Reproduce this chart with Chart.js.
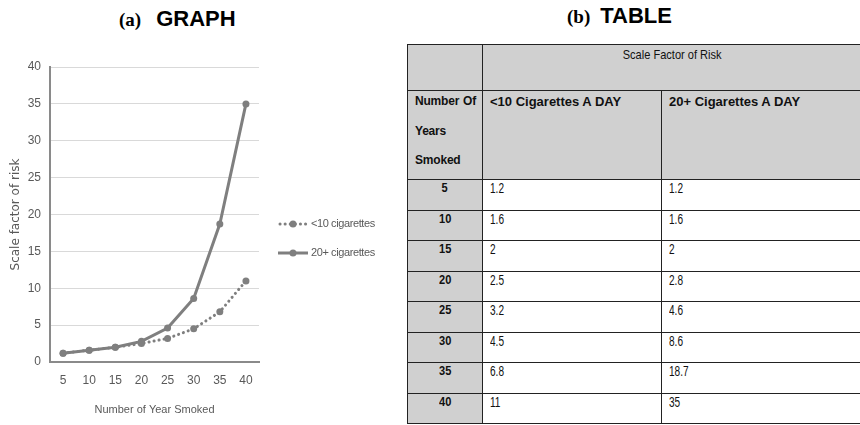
<!DOCTYPE html>
<html>
<head>
<meta charset="utf-8">
<script src="https://cdn.jsdelivr.net/npm/chart.js@4.4.1/dist/chart.umd.min.js"></script>
<style>
  html, body { margin: 0; padding: 0; background: #fff; }
  body { width: 860px; height: 425px; position: relative; overflow: hidden; }
  .title { position: absolute; font-weight: bold; white-space: nowrap; color: #000; }
  .title .lbl { font-family: "Liberation Serif", serif; font-size: 19px; }
  .title .txt { font-family: "Liberation Sans", Arial, sans-serif; font-size: 22px; }
  #ta { left: 119px; top: 6px; }
  #ta .lbl { margin-right: 15px; }
  #tb { left: 567px; top: 3px; }
  #tb .lbl { margin-right: 10px; }
  #chartBox { position: absolute; left: 0; top: 40px; width: 400px; height: 385px; }
  table { position: absolute; left: 407px; top: 44px; width: 454px; border-collapse: collapse; table-layout: fixed;
          font-family: "Liberation Sans", Arial, sans-serif; font-size: 13px; line-height: 15px; color: #111; }
  td { border: 1px solid #222; padding: 1px 6px 0 7px; vertical-align: top; }
  td.g { background: #d0d0d0; }
  td.yr { font-weight: bold; text-align: center; padding: 0; }
  .c { display: inline-block; font-size: 14px; transform: scaleX(0.72); transform-origin: left center; white-space: nowrap; }
  .cc { display: inline-block; transform: scaleX(0.85); transform-origin: center; white-space: nowrap; }
  .hd { font-weight: bold; padding-top: 3px; }
  td.nysCell { padding-top: 0; }
  .nys { font-size: 12px; letter-spacing: -0.2px; line-height: 29.5px; text-align: justify; margin-top: -4px; }
  tr.d { height: 30.5px; }
</style>
</head>
<body>
<div class="title" id="ta"><span class="lbl">(a)</span><span class="txt">GRAPH</span></div>
<div class="title" id="tb"><span class="lbl">(b)</span><span class="txt">TABLE</span></div>
<div id="chartBox"><canvas id="riskChart"></canvas></div>
<table id="riskTable">
  <colgroup><col style="width:75px"><col style="width:179px"><col style="width:200px"></colgroup>
  <tbody id="tbody"></tbody>
</table>
<script>
// data
const years = [5, 10, 15, 20, 25, 30, 35, 40];
const under10 = [1.2, 1.6, 2, 2.5, 3.2, 4.5, 6.8, 11];
const over20 = [1.2, 1.6, 2, 2.8, 4.6, 8.6, 18.7, 35];
const seriesNames = ["<10 cigarettes", "20+ cigarettes"];
const tableHeads = ["Scale Factor of Risk", "Number Of Years Smoked", "<10 Cigarettes A DAY", "20+ Cigarettes A DAY"];

const lineGray = "#7f7f7f";
const textGray = "#595959";
const chartFont = "'Liberation Sans', Arial, sans-serif";

// table
function esc(s) {
    return String(s).replace(/</g, "&lt;");
}

function buildTable() {
    const tb = document.getElementById("tbody");
    let html = `<tr style="height:46px"><td class="g"></td><td class="g" colspan="2" style="text-align:center;padding-top:2px"><span class="cc">${tableHeads[0]}</span></td></tr>`;
    html += `<tr style="height:89px"><td class="g hd nysCell"><div class="nys">${tableHeads[1]}</div></td><td class="g hd">${esc(tableHeads[2])}</td><td class="g hd">${tableHeads[3]}</td></tr>`;
    years.forEach((y, i) => {
        html += `<tr class="d"><td class="g yr"><span class="cc">${y}</span></td><td><span class="c">${under10[i]}</span></td><td><span class="c">${over20[i]}</span></td></tr>`;
    });
    tb.innerHTML = html;
}
buildTable();

// legend on the right, drawn from the datasets
const sideLegend = {
    id: "sideLegend",
    afterDraw(chart, args, opts) {
        const c = chart.ctx;
        const x0 = chart.chartArea.right + opts.offsetX;
        chart.data.datasets.forEach((ds, i) => {
            const y = opts.top + i * opts.gap;
            c.save();
            c.strokeStyle = ds.borderColor;
            c.lineWidth = ds.borderWidth;
            c.lineCap = ds.borderCapStyle || "butt";
            c.setLineDash(ds.borderDash || []);
            c.beginPath();
            c.moveTo(x0 + (ds.borderDash ? 2 : 0), y);
            c.lineTo(x0 + opts.sample, y);
            c.stroke();
            c.setLineDash([]);
            c.fillStyle = ds.backgroundColor;
            c.beginPath();
            c.arc(x0 + opts.sample / 2, y, ds.pointRadius, 0, Math.PI * 2);
            c.fill();
            c.fillStyle = opts.color;
            c.font = opts.font;
            c.textBaseline = "middle";
            c.letterSpacing = "-0.4px";
            c.fillText(ds.label, x0 + opts.sample + opts.textGap, y);
            c.restore();
        });
    }
};

const ctx = document.getElementById("riskChart").getContext("2d");
const chart = new Chart(ctx, {
    type: "line",
    data: {
        labels: years,
        datasets: [
            {
                label: seriesNames[0],
                data: under10,
                borderColor: lineGray,
                backgroundColor: lineGray,
                borderWidth: 3,
                borderDash: [0.1, 5],
                borderCapStyle: "round",
                pointRadius: 3.5,
                pointBorderWidth: 0,
                tension: 0
            },
            {
                label: seriesNames[1],
                data: over20,
                borderColor: lineGray,
                backgroundColor: lineGray,
                borderWidth: 3,
                pointRadius: 3.5,
                pointBorderWidth: 0,
                tension: 0
            }
        ]
    },
    options: {
        responsive: true,
        maintainAspectRatio: false,
        animation: false,
        layout: { padding: { top: 27, right: 141, bottom: 0, left: 0 } },
        plugins: {
            tooltip: { enabled: false },
            legend: { display: false },
            sideLegend: {
                offsetX: 19,
                top: 184,
                gap: 29,
                sample: 30,
                textGap: 3,
                color: textGray,
                font: "11px 'Liberation Sans', Arial, sans-serif"
            }
        },
        scales: {
            x: {
                offset: true,
                grid: { display: false, drawTicks: false },
                border: { color: "#8a8a8a", width: 2 },
                ticks: { color: textGray, padding: 11, font: { family: chartFont, size: 12 } },
                title: { display: true, text: "Number of Year Smoked", color: textGray, padding: { top: 0, bottom: 8 }, font: { family: chartFont, size: 11 } },
                afterFit: (s) => { s.height = 63; }
            },
            y: {
                min: 0,
                max: 40,
                ticks: { stepSize: 5, color: textGray, padding: 9, font: { family: chartFont, size: 12 } },
                grid: { color: "#d9d9d9", drawTicks: false },
                border: { color: "#8a8a8a", width: 2 },
                title: { display: true, text: "Scale factor of risk", color: textGray, padding: { top: 9, bottom: 0 }, font: { family: "'DejaVu Sans', sans-serif", size: 12 } },
                afterFit: (s) => { s.width = 50; }
            }
        }
    },
    plugins: [sideLegend]
});
</script>
</body>
</html>
